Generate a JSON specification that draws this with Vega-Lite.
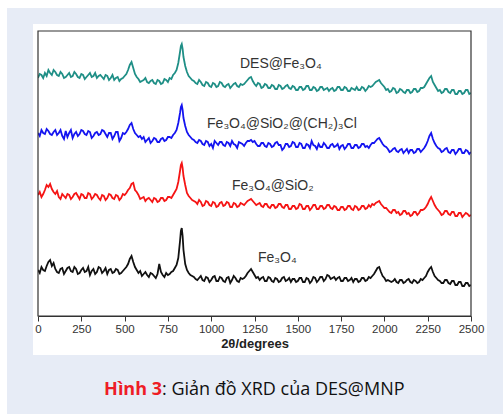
{
  "$schema": "https://vega.github.io/schema/vega-lite/v6.json",
  "width": 433,
  "height": 285,
  "autosize": {"type": "none"},
  "padding": {"left": 38, "top": 31, "right": 32, "bottom": 98},
  "background": "white",
  "config": {
    "view": {"stroke": null},
    "font": "Liberation Sans",
    "axisX": {
      "labelOverlap": false,
      "labelFlush": false,
      "labelFont": "Liberation Sans",
      "labelFontSize": 11.5,
      "labelColor": "#333",
      "labelPadding": 2,
      "tickColor": "#333",
      "tickWidth": 1,
      "domainColor": "#333",
      "domainWidth": 1.2,
      "grid": false,
      "titleFont": "Liberation Sans",
      "titleFontSize": 13,
      "titleFontWeight": "bold",
      "titleColor": "#222",
      "titlePadding": 3
    }
  },
  "datasets": {
    "xrd": [
      {"x":0,"t":238,"b":183,"r":121,"k":46},
      {"x":10,"t":242,"b":180,"r":124,"k":43},
      {"x":20,"t":241,"b":186,"r":119,"k":49},
      {"x":30,"t":238,"b":183,"r":122,"k":46},
      {"x":40,"t":243,"b":182,"r":126,"k":45},
      {"x":50,"t":240,"b":187,"r":131,"k":50},
      {"x":60,"t":246,"b":185,"r":129,"k":54},
      {"x":70,"t":243,"b":182,"r":132,"k":56},
      {"x":80,"t":241,"b":181,"r":127,"k":50},
      {"x":90,"t":246,"b":184,"r":124,"k":53},
      {"x":100,"t":244,"b":186,"r":122,"k":47},
      {"x":110,"t":241,"b":181,"r":125,"k":44},
      {"x":120,"t":240,"b":183,"r":119,"k":43},
      {"x":130,"t":244,"b":186,"r":117,"k":47},
      {"x":140,"t":242,"b":180,"r":122,"k":48},
      {"x":150,"t":238,"b":177,"r":120,"k":42},
      {"x":160,"t":239,"b":185,"r":118,"k":45},
      {"x":170,"t":241,"b":179,"r":122,"k":48},
      {"x":180,"t":243,"b":183,"r":121,"k":49},
      {"x":190,"t":239,"b":186,"r":117,"k":45},
      {"x":200,"t":240,"b":178,"r":119,"k":44},
      {"x":210,"t":244,"b":182,"r":122,"k":49},
      {"x":220,"t":242,"b":184,"r":123,"k":47},
      {"x":230,"t":239,"b":180,"r":120,"k":42},
      {"x":240,"t":238,"b":182,"r":117,"k":43},
      {"x":250,"t":242,"b":186,"r":122,"k":46},
      {"x":260,"t":241,"b":185,"r":121,"k":48},
      {"x":270,"t":237,"b":182,"r":118,"k":44},
      {"x":280,"t":239,"b":181,"r":118,"k":45},
      {"x":290,"t":241,"b":185,"r":123,"k":49},
      {"x":300,"t":243,"b":184,"r":122,"k":41},
      {"x":310,"t":239,"b":178,"r":117,"k":45},
      {"x":320,"t":240,"b":180,"r":119,"k":47},
      {"x":330,"t":243,"b":183,"r":122,"k":42},
      {"x":340,"t":238,"b":184,"r":121,"k":44},
      {"x":350,"t":240,"b":181,"r":118,"k":49},
      {"x":360,"t":241,"b":182,"r":116,"k":48},
      {"x":370,"t":239,"b":186,"r":121,"k":43},
      {"x":380,"t":237,"b":185,"r":120,"k":45},
      {"x":390,"t":241,"b":182,"r":116,"k":48},
      {"x":400,"t":240,"b":179,"r":118,"k":42},
      {"x":410,"t":236,"b":183,"r":122,"k":46},
      {"x":420,"t":238,"b":183,"r":121,"k":47},
      {"x":430,"t":241,"b":177,"r":118,"k":43},
      {"x":440,"t":236,"b":180,"r":117,"k":44},
      {"x":450,"t":238,"b":184,"r":121,"k":47},
      {"x":460,"t":239,"b":184,"r":120,"k":46},
      {"x":470,"t":235,"b":175,"r":116,"k":42},
      {"x":480,"t":237,"b":178,"r":118,"k":43},
      {"x":490,"t":238,"b":183,"r":122,"k":45},
      {"x":500,"t":240,"b":182,"r":121,"k":47},
      {"x":510,"t":242,"b":184,"r":123,"k":49},
      {"x":520,"t":246,"b":187,"r":126,"k":52},
      {"x":530,"t":251,"b":191,"r":128,"k":57},
      {"x":540,"t":254,"b":193,"r":132,"k":60},
      {"x":550,"t":248,"b":187,"r":133,"k":54},
      {"x":560,"t":242,"b":183,"r":126,"k":49},
      {"x":570,"t":239,"b":181,"r":124,"k":46},
      {"x":580,"t":237,"b":179,"r":121,"k":43},
      {"x":590,"t":234,"b":180,"r":117,"k":45},
      {"x":600,"t":235,"b":177,"r":118,"k":40},
      {"x":610,"t":236,"b":179,"r":119,"k":42},
      {"x":620,"t":238,"b":174,"r":115,"k":44},
      {"x":630,"t":234,"b":176,"r":117,"k":41},
      {"x":640,"t":233,"b":178,"r":118,"k":39},
      {"x":650,"t":235,"b":173,"r":116,"k":43},
      {"x":660,"t":236,"b":175,"r":114,"k":42},
      {"x":670,"t":233,"b":178,"r":118,"k":40},
      {"x":680,"t":232,"b":177,"r":117,"k":38},
      {"x":690,"t":236,"b":174,"r":114,"k":42},
      {"x":700,"t":235,"b":174,"r":115,"k":52},
      {"x":710,"t":232,"b":177,"r":118,"k":44},
      {"x":720,"t":233,"b":178,"r":118,"k":41},
      {"x":730,"t":237,"b":175,"r":115,"k":39},
      {"x":740,"t":236,"b":176,"r":116,"k":43},
      {"x":750,"t":234,"b":179,"r":119,"k":41},
      {"x":760,"t":238,"b":179,"r":119,"k":42},
      {"x":770,"t":237,"b":178,"r":118,"k":44},
      {"x":780,"t":241,"b":181,"r":121,"k":45},
      {"x":790,"t":243,"b":183,"r":124,"k":48},
      {"x":800,"t":246,"b":186,"r":127,"k":51},
      {"x":810,"t":253,"b":193,"r":134,"k":58},
      {"x":820,"t":264,"b":203,"r":145,"k":75},
      {"x":825,"t":270,"b":209,"r":151,"k":85},
      {"x":830,"t":272,"b":211,"r":153,"k":88},
      {"x":835,"t":267,"b":206,"r":148,"k":80},
      {"x":840,"t":259,"b":198,"r":140,"k":66},
      {"x":850,"t":250,"b":190,"r":131,"k":52},
      {"x":860,"t":244,"b":184,"r":123,"k":46},
      {"x":870,"t":240,"b":181,"r":120,"k":43},
      {"x":880,"t":238,"b":179,"r":118,"k":41},
      {"x":890,"t":236,"b":177,"r":116,"k":40},
      {"x":900,"t":235,"b":176,"r":115,"k":39},
      {"x":910,"t":233,"b":174,"r":114,"k":37},
      {"x":920,"t":232,"b":173,"r":112,"k":36},
      {"x":930,"t":236,"b":176,"r":116,"k":38},
      {"x":940,"t":234,"b":175,"r":114,"k":40},
      {"x":950,"t":231,"b":172,"r":110,"k":36},
      {"x":960,"t":230,"b":171,"r":111,"k":35},
      {"x":970,"t":234,"b":175,"r":115,"k":39},
      {"x":980,"t":233,"b":174,"r":114,"k":38},
      {"x":990,"t":230,"b":170,"r":111,"k":34},
      {"x":1000,"t":229,"b":172,"r":110,"k":36},
      {"x":1010,"t":233,"b":168,"r":114,"k":39},
      {"x":1020,"t":232,"b":175,"r":113,"k":40},
      {"x":1030,"t":229,"b":173,"r":109,"k":35},
      {"x":1040,"t":230,"b":171,"r":110,"k":35},
      {"x":1050,"t":234,"b":174,"r":113,"k":39},
      {"x":1060,"t":233,"b":174,"r":114,"k":38},
      {"x":1070,"t":230,"b":171,"r":110,"k":35},
      {"x":1080,"t":229,"b":170,"r":111,"k":34},
      {"x":1090,"t":231,"b":174,"r":114,"k":38},
      {"x":1100,"t":232,"b":173,"r":113,"k":39},
      {"x":1110,"t":228,"b":170,"r":109,"k":33},
      {"x":1120,"t":230,"b":175,"r":109,"k":36},
      {"x":1130,"t":232,"b":172,"r":113,"k":40},
      {"x":1140,"t":233,"b":171,"r":112,"k":38},
      {"x":1150,"t":230,"b":168,"r":109,"k":35},
      {"x":1160,"t":229,"b":174,"r":110,"k":34},
      {"x":1170,"t":232,"b":173,"r":113,"k":38},
      {"x":1180,"t":231,"b":172,"r":112,"k":37},
      {"x":1190,"t":232,"b":170,"r":111,"k":38},
      {"x":1200,"t":234,"b":173,"r":113,"k":40},
      {"x":1210,"t":236,"b":175,"r":115,"k":43},
      {"x":1220,"t":238,"b":175,"r":116,"k":45},
      {"x":1230,"t":239,"b":176,"r":117,"k":47},
      {"x":1240,"t":235,"b":174,"r":115,"k":44},
      {"x":1250,"t":232,"b":175,"r":113,"k":41},
      {"x":1260,"t":230,"b":172,"r":111,"k":38},
      {"x":1270,"t":233,"b":170,"r":112,"k":39},
      {"x":1280,"t":232,"b":170,"r":113,"k":36},
      {"x":1290,"t":228,"b":173,"r":110,"k":38},
      {"x":1300,"t":229,"b":173,"r":109,"k":39},
      {"x":1310,"t":232,"b":170,"r":112,"k":35},
      {"x":1320,"t":231,"b":169,"r":112,"k":35},
      {"x":1330,"t":228,"b":173,"r":109,"k":39},
      {"x":1340,"t":228,"b":172,"r":108,"k":38},
      {"x":1350,"t":231,"b":169,"r":111,"k":35},
      {"x":1360,"t":230,"b":170,"r":111,"k":34},
      {"x":1370,"t":227,"b":173,"r":108,"k":38},
      {"x":1380,"t":227,"b":174,"r":109,"k":37},
      {"x":1390,"t":231,"b":171,"r":112,"k":34},
      {"x":1400,"t":230,"b":171,"r":112,"k":35},
      {"x":1410,"t":227,"b":166,"r":109,"k":38},
      {"x":1420,"t":228,"b":168,"r":108,"k":39},
      {"x":1430,"t":230,"b":172,"r":111,"k":35},
      {"x":1440,"t":231,"b":172,"r":111,"k":36},
      {"x":1450,"t":228,"b":169,"r":107,"k":38},
      {"x":1460,"t":227,"b":170,"r":107,"k":34},
      {"x":1470,"t":230,"b":174,"r":110,"k":37},
      {"x":1480,"t":229,"b":173,"r":110,"k":37},
      {"x":1490,"t":226,"b":169,"r":107,"k":34},
      {"x":1500,"t":226,"b":169,"r":108,"k":35},
      {"x":1510,"t":229,"b":173,"r":112,"k":38},
      {"x":1520,"t":229,"b":172,"r":111,"k":38},
      {"x":1530,"t":226,"b":168,"r":107,"k":34},
      {"x":1540,"t":227,"b":168,"r":107,"k":34},
      {"x":1550,"t":230,"b":172,"r":110,"k":38},
      {"x":1560,"t":230,"b":171,"r":110,"k":37},
      {"x":1570,"t":226,"b":168,"r":106,"k":33},
      {"x":1580,"t":226,"b":175,"r":108,"k":35},
      {"x":1590,"t":229,"b":171,"r":111,"k":39},
      {"x":1600,"t":228,"b":170,"r":111,"k":38},
      {"x":1610,"t":225,"b":167,"r":107,"k":34},
      {"x":1620,"t":226,"b":172,"r":107,"k":36},
      {"x":1630,"t":229,"b":169,"r":110,"k":39},
      {"x":1640,"t":229,"b":169,"r":110,"k":39},
      {"x":1650,"t":226,"b":173,"r":107,"k":35},
      {"x":1660,"t":227,"b":171,"r":108,"k":37},
      {"x":1670,"t":228,"b":168,"r":111,"k":41},
      {"x":1680,"t":225,"b":168,"r":111,"k":40},
      {"x":1690,"t":227,"b":171,"r":108,"k":37},
      {"x":1700,"t":228,"b":172,"r":107,"k":38},
      {"x":1710,"t":225,"b":169,"r":110,"k":39},
      {"x":1720,"t":226,"b":170,"r":109,"k":36},
      {"x":1730,"t":229,"b":172,"r":106,"k":38},
      {"x":1740,"t":229,"b":167,"r":106,"k":39},
      {"x":1750,"t":226,"b":170,"r":109,"k":35},
      {"x":1760,"t":226,"b":171,"r":109,"k":35},
      {"x":1770,"t":229,"b":167,"r":106,"k":38},
      {"x":1780,"t":228,"b":169,"r":107,"k":38},
      {"x":1790,"t":225,"b":172,"r":110,"k":35},
      {"x":1800,"t":225,"b":172,"r":110,"k":36},
      {"x":1810,"t":228,"b":168,"r":107,"k":38},
      {"x":1820,"t":227,"b":168,"r":106,"k":34},
      {"x":1830,"t":226,"b":171,"r":110,"k":37},
      {"x":1840,"t":229,"b":171,"r":109,"k":37},
      {"x":1850,"t":226,"b":168,"r":106,"k":34},
      {"x":1860,"t":226,"b":169,"r":107,"k":35},
      {"x":1870,"t":229,"b":172,"r":110,"k":38},
      {"x":1880,"t":228,"b":172,"r":110,"k":38},
      {"x":1890,"t":225,"b":169,"r":107,"k":35},
      {"x":1900,"t":227,"b":170,"r":108,"k":36},
      {"x":1910,"t":230,"b":168,"r":111,"k":39},
      {"x":1920,"t":229,"b":171,"r":109,"k":38},
      {"x":1930,"t":230,"b":173,"r":112,"k":40},
      {"x":1940,"t":232,"b":173,"r":111,"k":42},
      {"x":1950,"t":234,"b":175,"r":113,"k":45},
      {"x":1960,"t":235,"b":177,"r":114,"k":48},
      {"x":1970,"t":236,"b":178,"r":115,"k":49},
      {"x":1980,"t":233,"b":175,"r":112,"k":44},
      {"x":1990,"t":231,"b":172,"r":110,"k":40},
      {"x":2000,"t":229,"b":170,"r":108,"k":38},
      {"x":2010,"t":226,"b":169,"r":108,"k":35},
      {"x":2020,"t":227,"b":167,"r":106,"k":36},
      {"x":2030,"t":224,"b":164,"r":104,"k":35},
      {"x":2040,"t":225,"b":165,"r":103,"k":34},
      {"x":2050,"t":228,"b":167,"r":106,"k":35},
      {"x":2060,"t":227,"b":168,"r":106,"k":37},
      {"x":2070,"t":223,"b":165,"r":103,"k":34},
      {"x":2080,"t":224,"b":164,"r":104,"k":33},
      {"x":2090,"t":227,"b":166,"r":101,"k":36},
      {"x":2100,"t":226,"b":167,"r":102,"k":36},
      {"x":2110,"t":224,"b":163,"r":105,"k":33},
      {"x":2120,"t":223,"b":165,"r":105,"k":34},
      {"x":2130,"t":226,"b":167,"r":102,"k":36},
      {"x":2140,"t":226,"b":163,"r":103,"k":37},
      {"x":2150,"t":223,"b":166,"r":100,"k":34},
      {"x":2160,"t":224,"b":166,"r":101,"k":33},
      {"x":2170,"t":227,"b":163,"r":104,"k":36},
      {"x":2180,"t":227,"b":164,"r":104,"k":35},
      {"x":2190,"t":224,"b":167,"r":101,"k":33},
      {"x":2200,"t":225,"b":167,"r":103,"k":34},
      {"x":2210,"t":228,"b":164,"r":106,"k":37},
      {"x":2220,"t":228,"b":166,"r":106,"k":36},
      {"x":2230,"t":229,"b":168,"r":107,"k":38},
      {"x":2240,"t":232,"b":171,"r":109,"k":40},
      {"x":2250,"t":235,"b":175,"r":112,"k":44},
      {"x":2260,"t":238,"b":180,"r":116,"k":47},
      {"x":2270,"t":240,"b":183,"r":119,"k":49},
      {"x":2280,"t":234,"b":177,"r":115,"k":44},
      {"x":2290,"t":231,"b":173,"r":111,"k":40},
      {"x":2300,"t":228,"b":170,"r":108,"k":38},
      {"x":2310,"t":225,"b":168,"r":106,"k":36},
      {"x":2320,"t":226,"b":167,"r":104,"k":35},
      {"x":2330,"t":223,"b":164,"r":101,"k":33},
      {"x":2340,"t":224,"b":165,"r":102,"k":33},
      {"x":2350,"t":227,"b":167,"r":105,"k":36},
      {"x":2360,"t":227,"b":168,"r":105,"k":36},
      {"x":2370,"t":224,"b":164,"r":102,"k":33},
      {"x":2380,"t":223,"b":163,"r":101,"k":32},
      {"x":2390,"t":226,"b":166,"r":104,"k":35},
      {"x":2400,"t":226,"b":166,"r":104,"k":35},
      {"x":2410,"t":222,"b":162,"r":100,"k":31},
      {"x":2420,"t":222,"b":164,"r":100,"k":31},
      {"x":2430,"t":225,"b":167,"r":103,"k":34},
      {"x":2440,"t":225,"b":167,"r":103,"k":34},
      {"x":2450,"t":222,"b":163,"r":99,"k":30},
      {"x":2460,"t":223,"b":163,"r":101,"k":30},
      {"x":2470,"t":226,"b":166,"r":103,"k":33},
      {"x":2480,"t":226,"b":165,"r":102,"k":33},
      {"x":2490,"t":222,"b":162,"r":100,"k":30},
      {"x":2500,"t":223,"b":164,"r":101,"k":31}
    ],
    "labels": [
      {"x":1166,"y":248.5,"label":"DES@Fe₃O₄"},
      {"x":976,"y":188,"label":"Fe₃O₄@SiO₂@(CH₂)₃Cl"},
      {"x":1120,"y":126,"label":"Fe₃O₄@SiO₂"},
      {"x":1270,"y":54,"label":"Fe₃O₄"}
    ]
  },
  "layer": [
    {
      "data": {"values": [{}]},
      "mark": {"type": "rect", "fill": "#e7ecf6"},
      "encoding": {
        "x": {"datum": -179, "type": "quantitative", "scale": {"domain": [0, 2500], "nice": false, "zero": false}},
        "x2": {"datum": 2800},
        "y": {"datum": 308, "type": "quantitative", "scale": {"domain": [0, 285], "nice": false, "zero": false}, "axis": null},
        "y2": {"datum": 292}
      }
    },
    {
      "data": {"values": [{}]},
      "mark": {"type": "rect", "fill": "#e7ecf6"},
      "encoding": {
        "x": {"datum": -179, "type": "quantitative", "scale": {"domain": [0, 2500], "nice": false, "zero": false}},
        "x2": {"datum": 2800},
        "y": {"datum": -39, "type": "quantitative", "scale": {"domain": [0, 285], "nice": false, "zero": false}, "axis": null},
        "y2": {"datum": -130}
      }
    },
    {
      "data": {"values": [{}]},
      "mark": {"type": "rect", "fill": "#e7ecf6"},
      "encoding": {
        "x": {"datum": -179, "type": "quantitative", "scale": {"domain": [0, 2500], "nice": false, "zero": false}},
        "x2": {"datum": -29},
        "y": {"datum": 292, "type": "quantitative", "scale": {"domain": [0, 285], "nice": false, "zero": false}, "axis": null},
        "y2": {"datum": -39}
      }
    },
    {
      "data": {"values": [{}]},
      "mark": {"type": "rect", "fill": "#e7ecf6"},
      "encoding": {
        "x": {"datum": 2592, "type": "quantitative", "scale": {"domain": [0, 2500], "nice": false, "zero": false}},
        "x2": {"datum": 2800},
        "y": {"datum": 292, "type": "quantitative", "scale": {"domain": [0, 285], "nice": false, "zero": false}, "axis": null},
        "y2": {"datum": -39}
      }
    },
    {
      "data": {"name": "xrd"},
      "transform": [{"fold": ["t", "b", "r", "k"], "as": ["s", "v"]}],
      "mark": {"type": "line", "strokeWidth": 1.8, "clip": true},
      "encoding": {
        "x": {
          "field": "x", "type": "quantitative", "title": "2θ/degrees",
          "scale": {"domain": [0, 2500], "nice": false, "zero": false},
          "axis": {
            "values": [0,125,250,375,500,625,750,875,1000,1125,1250,1375,1500,1625,1750,1875,2000,2125,2250,2375,2500],
            "format": "d",
            "labelExpr": "datum.value % 250 === 0 ? datum.label : ''",
            "tickSize": {"condition": {"test": "datum.value % 250 !== 0", "value": 3}, "value": 5}
          }
        },
        "y": {"field": "v", "type": "quantitative", "scale": {"domain": [0, 285], "nice": false, "zero": false}, "axis": null},
        "color": {
          "field": "s", "type": "nominal",
          "scale": {"domain": ["t", "b", "r", "k"], "range": ["#1f8f86", "#1414f0", "#f51414", "#111111"]},
          "legend": null
        }
      }
    },
    {
      "data": {"values": [{}]},
      "mark": {"type": "rect", "filled": false, "stroke": "#333", "strokeWidth": 1.2},
      "encoding": {
        "x": {"datum": 0, "type": "quantitative", "scale": {"domain": [0, 2500], "nice": false, "zero": false}},
        "x2": {"datum": 2500},
        "y": {"datum": 0, "type": "quantitative", "scale": {"domain": [0, 285], "nice": false, "zero": false}, "axis": null},
        "y2": {"datum": 285}
      }
    },
    {
      "data": {"name": "labels"},
      "mark": {"type": "text", "align": "left", "baseline": "alphabetic", "font": "Liberation Sans", "fontSize": 14, "color": "#333"},
      "encoding": {
        "x": {"field": "x", "type": "quantitative", "scale": {"domain": [0, 2500], "nice": false, "zero": false}},
        "y": {"field": "y", "type": "quantitative", "scale": {"domain": [0, 285], "nice": false, "zero": false}, "axis": null},
        "text": {"field": "label"}
      }
    },
    {
      "data": {"values": [{}]},
      "mark": {"type": "text", "align": "right", "baseline": "alphabetic", "font": "Open Sans", "fontSize": 18, "fontWeight": "bold", "color": "#ee1c25", "text": "Hình 3"},
      "encoding": {
        "x": {"datum": 716, "type": "quantitative", "scale": {"domain": [0, 2500], "nice": false, "zero": false}},
        "y": {"datum": -79, "type": "quantitative", "scale": {"domain": [0, 285], "nice": false, "zero": false}, "axis": null}
      }
    },
    {
      "data": {"values": [{}]},
      "mark": {"type": "text", "align": "left", "baseline": "alphabetic", "font": "Open Sans", "fontSize": 18, "color": "#111111", "text": ": Giản đồ XRD của DES@MNP"},
      "encoding": {
        "x": {"datum": 716, "type": "quantitative", "scale": {"domain": [0, 2500], "nice": false, "zero": false}},
        "y": {"datum": -79, "type": "quantitative", "scale": {"domain": [0, 285], "nice": false, "zero": false}, "axis": null}
      }
    }
  ]
}
